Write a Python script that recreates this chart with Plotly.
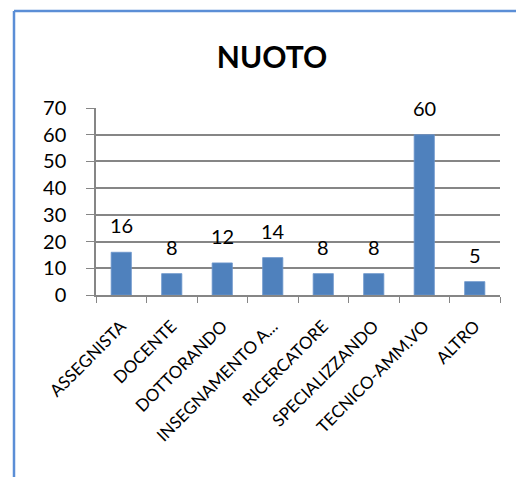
import plotly.graph_objects as go

categories = ["ASSEGNISTA", "DOCENTE", "DOTTORANDO", "INSEGNAMENTO A...",
              "RICERCATORE", "SPECIALIZZANDO", "TECNICO-AMM.VO", "ALTRO"]
values = [16, 8, 12, 14, 8, 8, 60, 5]
y_ticks = [0, 10, 20, 30, 40, 50, 60, 70]
title_text = "NUOTO"

W, H = 516, 477
L, T = 96, 108
R = W - 500
B = H - 295
pw, ph = W - L - R, H - T - B

def px_x(p):
    return (p - L) / pw

def px_y(p):
    return (H - B - p) / ph

fig = go.Figure()
fig.add_trace(go.Bar(
    x=categories, y=values,
    marker=dict(color="#4F81BD", line=dict(color="#6C96CC", width=0.8)),
    cliponaxis=False,
))

for c, v in zip(categories, values):
    fig.add_annotation(x=c, y=v, xref="x", yref="y", text=str(v),
                       showarrow=False, yanchor="bottom", yshift=13,
                       font=dict(family="Lato", size=20, color="#000000"))

border = dict(color="#5B8ED6", width=2.5)
fig.update_layout(
    width=W, height=H,
    margin=dict(l=L, r=R, t=T, b=B, pad=0, autoexpand=False),
    paper_bgcolor="white", plot_bgcolor="white",
    showlegend=False,
    bargap=0.6,
    font=dict(family="Lato", color="#000000"),
    title=dict(text="<b>%s</b>" % title_text, x=272 / W, xanchor="center",
               y=1 - 57 / H, yanchor="middle", yref="container",
               font=dict(family="Lato", size=30, color="#000000")),
    xaxis=dict(
        showline=True, linecolor="#868686", linewidth=1.5,
        ticks="outside", tickson="boundaries", ticklen=6, tickcolor="#868686",
        tickangle=-45, tickfont=dict(family="Lato", size=17, color="#000000"),
        ticklabelstandoff=13, showgrid=False, automargin=False,
    ),
    yaxis=dict(
        range=[0, 70], tickvals=y_ticks, showline=True, linecolor="#868686",
        linewidth=1.5, ticks="outside", ticklen=8, tickcolor="#868686",
        showgrid=True, gridcolor="#868686", gridwidth=1.5,
        tickfont=dict(family="Lato", size=20, color="#000000"),
        ticklabelstandoff=16, zeroline=False, automargin=False,
    ),
    shapes=[
        dict(type="line", xref="paper", yref="paper",
             x0=px_x(14), x1=px_x(14), y0=px_y(600), y1=px_y(11),
             line=border, layer="below"),
        dict(type="line", xref="paper", yref="paper",
             x0=px_x(14), x1=px_x(700), y0=px_y(11), y1=px_y(11),
             line=border, layer="below"),
    ],
)

fig.write_html("out.html", config={"displayModeBar": False},
               post_script="document.body.style.margin='0';document.body.style.overflow='hidden';")
